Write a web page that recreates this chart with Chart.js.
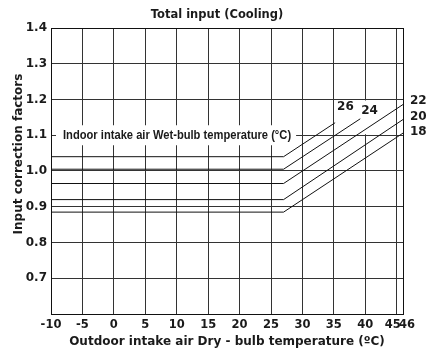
<!DOCTYPE html>
<html>
<head>
<meta charset="utf-8">
<script src="https://cdn.jsdelivr.net/npm/chart.js@4.4.0/dist/chart.umd.min.js"></script>
<style>
  html, body { margin: 0; padding: 0; background: #fff; }
  #wrap { width: 427px; height: 352px; }
</style>
</head>
<body>
<div id="wrap"><canvas id="chart"></canvas></div>
<script>
// indoor wet-bulb temperature of each curve (°C)
const wetBulbTemps = ['26', '24', '22', '20', '18'];
// correction factor on the flat part of each curve
const flatFactors = [1.04, 1.005, 0.965, 0.92, 0.885];
// outdoor dry-bulb temperature where the curves start to rise
const kneeTemps = [27, 27, 27, 27, 27];
// last point of each curve
const endTemps = [35.2, 39.2, 46, 46, 46];
const endFactors = [1.135, 1.146, 1.186, 1.144, 1.106];
const startTemp = -10;

const xTicks = [-10, -5, 0, 5, 10, 15, 20, 25, 30, 35, 40, 45, 46];
const xTickLabels = ['-10', '-5', '0', '5', '10', '15', '20', '25', '30', '35', '40', '45', '46'];
const yTicks = [0.6, 0.7, 0.8, 0.9, 1.0, 1.1, 1.2, 1.3, 1.4];
const yTickLabels = ['', '0.7', '0.8', '0.9', '1.0', '1.1', '1.2', '1.3', '1.4'];

const FONT = '"DejaVu Sans", sans-serif';
const TEXT = '#1a1a1a';
const GRID = '#333';
const CAPTION = 'Indoor intake air Wet-bulb temperature (°C)';

const datasets = wetBulbTemps.map((t, i) => ({
    label: t,
    data: [
        { x: startTemp, y: flatFactors[i] },
        { x: kneeTemps[i], y: flatFactors[i] },
        { x: endTemps[i], y: endFactors[i] }
    ],
    borderColor: '#111',
    borderWidth: 1,
    pointRadius: 0,
    tension: 0
}));

// label offsets next to the end of each curve (px)
const labelShift = [[2, -12.5], [1, -5], [7, -1], [7, 0.5], [7, 2]];

const notes = {
    id: 'notes',
    beforeDatasetsDraw(chart) {
        const { ctx, scales: { x, y } } = chart;
        ctx.save();
        ctx.fillStyle = '#fff';
        // white band behind the wet-bulb caption
        ctx.font = 'bold 12px "Liberation Sans", sans-serif';
        const capY = y.getPixelForValue(1.1);
        const w = ctx.measureText(CAPTION).width * 0.93;
        ctx.fillRect(x.left + 5, capY - 10, w + 12, 20);
        // white patch behind the 26 / 24 labels
        const x1 = x.getPixelForValue(35), x2 = x.getPixelForValue(42);
        const y1 = y.getPixelForValue(1.2), y2 = y.getPixelForValue(1.1);
        ctx.fillRect(x1 + 1, y1 + 1, x2 - x1, y2 - y1 - 2);
        ctx.restore();
    },
    afterDatasetsDraw(chart) {
        const { ctx, scales: { x, y }, chartArea } = chart;
        ctx.save();
        ctx.fillStyle = TEXT;

        // caption is a condensed face in the original, so squeeze it a bit
        ctx.save();
        ctx.font = 'bold 12px "Liberation Sans", sans-serif';
        ctx.textBaseline = 'middle';
        ctx.translate(x.left + 12, y.getPixelForValue(1.1));
        ctx.scale(0.93, 1);
        ctx.fillText(CAPTION, 0, 0);
        ctx.restore();

        ctx.font = 'bold 12px ' + FONT;
        ctx.textBaseline = 'alphabetic';
        wetBulbTemps.forEach((t, i) => {
            const pts = chart.getDatasetMeta(i).data;
            const end = pts[pts.length - 1];
            ctx.fillText(t, end.x + labelShift[i][0], end.y + labelShift[i][1]);
        });

        // chart title, a bit left of the plot centre like the original
        ctx.font = 'bold 11.5px ' + FONT;
        ctx.textAlign = 'center';
        ctx.textBaseline = 'middle';
        ctx.fillText('Total input (Cooling)', (chartArea.left + chartArea.right) / 2 - 10, 15);

        // y axis title, sits a little above centre
        ctx.font = 'bold 12px ' + FONT;
        ctx.translate(19, (chartArea.top + chartArea.bottom) / 2 - 17);
        ctx.rotate(-Math.PI / 2);
        ctx.fillText('Input correction factors', 0, 0);
        ctx.restore();
    }
};

const edgeColor = (ctx, edge) => ctx.tick && ctx.tick.value === edge ? '#111' : GRID;

new Chart(document.getElementById('chart'), {
    type: 'line',
    data: { datasets: datasets },
    options: {
        responsive: true,
        maintainAspectRatio: false,
        animation: false,
        layout: { padding: { left: 0, right: 24, top: 28, bottom: 0 } },
        plugins: {
            legend: { display: false },
            tooltip: { enabled: false }
        },
        scales: {
            x: {
                type: 'linear',
                min: -10,
                max: 46,
                afterBuildTicks: s => { s.ticks = xTicks.map(v => ({ value: v })); },
                afterFit: s => { s.height = 38; },
                ticks: {
                    autoSkip: false,
                    maxRotation: 0,
                    padding: 4,
                    color: TEXT,
                    font: { family: FONT, size: 11.5, weight: 'bold' },
                    // 45 and 46 are only one degree apart: nudge them apart with spaces
                    callback: (v, i) => {
                        const s = xTickLabels[i];
                        if (i === xTicks.length - 2) return s + '  ';
                        if (i === xTicks.length - 1) return '  ' + s;
                        return s;
                    }
                },
                grid: { drawTicks: false, color: c => edgeColor(c, 46) },
                border: { color: '#111' },
                title: {
                    display: true,
                    text: 'Outdoor intake air Dry - bulb temperature (ºC)',
                    color: TEXT,
                    font: { family: FONT, size: 12, weight: 'bold' },
                    padding: { top: 0, bottom: 3 }
                }
            },
            y: {
                type: 'linear',
                min: 0.6,
                max: 1.4,
                afterBuildTicks: s => { s.ticks = yTicks.map(v => ({ value: v })); },
                afterFit: s => { s.width = 51; },
                ticks: {
                    padding: 4,
                    color: TEXT,
                    font: { family: FONT, size: 12, weight: 'bold' },
                    callback: (v, i) => yTickLabels[i]
                },
                grid: { drawTicks: false, color: c => edgeColor(c, 1.4) },
                border: { color: '#111' }
            }
        }
    },
    plugins: [notes]
});
</script>
</body>
</html>
